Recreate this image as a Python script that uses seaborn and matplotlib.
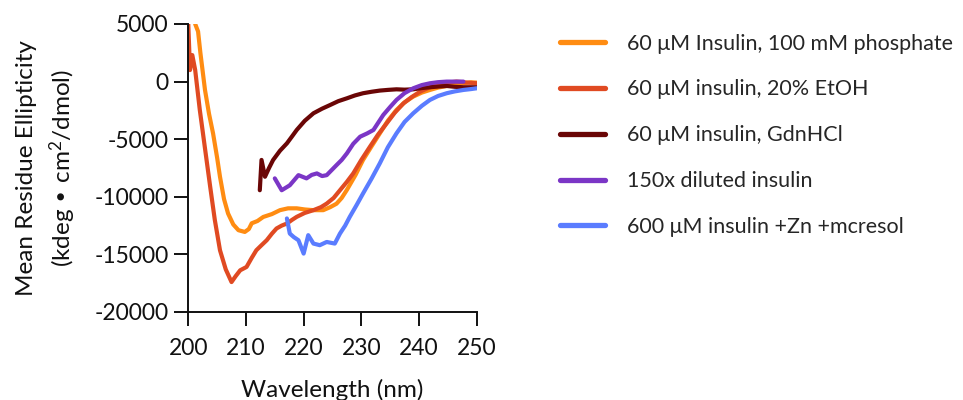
import matplotlib
matplotlib.use("Agg")
from matplotlib import pyplot as plt
import pandas as pd
import seaborn as sns

# CD spectra (wavelength nm, MRE)
labels = ['60 μM Insulin, 100 mM phosphate', '60 μM insulin, 20% EtOH',
          '60 μM insulin, GdnHCl', '150x diluted insulin', '600 μM insulin +Zn +mcresol']
colors = ['#ff8c12', '#e04a22', '#6a0606', '#7b36c6', '#5a7cff']

wl_phos = [201.2, 201.7, 202.1, 202.9, 203.6, 204.3, 205.0, 205.5, 206.2, 206.9, 207.8, 208.7, 209.8,
           210.5, 211.0, 212.0, 213.0, 214.5, 215.9, 217.3, 218.8, 220.2, 221.7, 223.4, 224.6, 225.7,
           226.6, 227.5, 229.0, 230.3, 231.8, 233.2, 234.6, 236.1, 237.5, 239.0, 240.5, 241.9, 243.3,
           244.8, 246.2, 247.7, 249.0, 250.0]
mre_phos = [5000, 4350, 2500, -725, -2800, -4500, -6600, -8260, -10200, -11450, -12400, -12900, -13050,
            -12800, -12300, -12100, -11750, -11500, -11160, -11000, -11000, -11100, -11160, -11160, -10900,
            -10600, -10100, -9400, -8100, -6800, -5600, -4500, -3400, -2460, -1800, -1300, -950, -725, -520,
            -380, -250, -145, -60, -90]

wl_etoh = [200.0, 200.3, 200.7, 201.2, 202.0, 202.9, 203.8, 204.6, 205.5, 206.5, 207.5, 208.2, 209.0,
           210.1, 211.0, 211.8, 212.7, 213.6, 214.5, 215.3, 216.2, 217.1, 218.0, 218.8, 220.2, 221.7,
           223.0, 224.0, 225.2, 226.3, 227.5, 228.6, 230.0, 231.5, 232.9, 234.4, 235.8, 237.3, 238.7,
           240.2, 241.6, 243.1, 244.8, 246.5, 248.2, 250.0]
mre_etoh = [5000, 1000, 2300, 1000, -2460, -5800, -9130, -12000, -14640, -16300, -17400, -16900, -16380,
            -16090, -15300, -14640, -14200, -13770, -13200, -12750, -12500, -12320, -12000, -11740, -11400,
            -11160, -10900, -10590, -10100, -9430, -8700, -7970, -6800, -5650, -4600, -3620, -2700, -1890,
            -1350, -870, -550, -290, -100, 0, -80, -145]

wl_gdn = [212.4, 212.7, 213.3, 214.0, 214.7, 215.9, 217.1, 218.0, 218.8, 220.2, 221.7, 223.2, 224.6,
          226.0, 227.5, 228.9, 230.3, 231.8, 233.2, 234.6, 236.1, 237.5, 239.0, 240.5, 241.9, 243.3,
          244.8, 246.2, 247.7, 250.0]
mre_gdn = [-9430, -6800, -8260, -7500, -6810, -6000, -5360, -4750, -4200, -3400, -2750, -2350, -2030,
           -1700, -1450, -1200, -1010, -880, -780, -720, -670, -700, -670, -560, -490, -430, -380, -450,
           -490, -490]

wl_dil = [215.0, 216.2, 217.6, 219.1, 220.5, 221.4, 222.3, 223.2, 224.0, 225.7, 226.6, 227.5, 228.6,
          229.8, 231.0, 232.1, 233.8, 235.0, 236.1, 237.5, 239.0, 240.5, 241.9, 243.3, 244.8, 246.2, 247.7]
mre_dil = [-8400, -9430, -9000, -8120, -8400, -8100, -7970, -8200, -8120, -7250, -6800, -6230, -5400,
           -4780, -4500, -4200, -2900, -2200, -1590, -1000, -580, -300, -145, -50, 0, 0, 0]

wl_zn = [217.1, 217.6, 218.3, 219.1, 220.0, 220.8, 221.7, 222.8, 224.0, 225.4, 226.3, 227.2, 228.0,
         229.2, 230.3, 231.8, 233.2, 234.6, 236.1, 237.5, 239.0, 240.5, 241.9, 243.3, 244.8, 246.2,
         247.7, 249.0, 250.0]
mre_zn = [-11880, -13190, -13500, -13770, -14930, -13330, -14060, -14200, -13920, -14060, -13190, -12500,
          -11740, -10700, -9710, -8400, -7100, -5700, -4490, -3500, -2750, -2100, -1590, -1250, -1010,
          -850, -725, -650, -580]

frames = []
for lab, wl, mre in zip(labels, [wl_phos, wl_etoh, wl_gdn, wl_dil, wl_zn],
                        [mre_phos, mre_etoh, mre_gdn, mre_dil, mre_zn]):
    frames.append(pd.DataFrame({'wavelength': wl, 'mre': mre, 'sample': lab}))
df = pd.concat(frames, ignore_index=True)

sns.set_style("ticks")
plt.rcParams['font.family'] = ['Lato', 'DejaVu Sans']
plt.rcParams['mathtext.default'] = 'regular'
plt.rcParams['axes.unicode_minus'] = False

fig = plt.figure(figsize=(9.63, 4), dpi=100)
ax = fig.add_axes([0.1955, 0.22, 0.2995, 0.72])
sns.lineplot(data=df, x='wavelength', y='mre', hue='sample', hue_order=labels,
             palette=colors, estimator=None, sort=False, linewidth=3.0, ax=ax)

ax.set_xlim(200, 250)
ax.set_ylim(-20000, 5000)
ax.set_xticks([200, 210, 220, 230, 240, 250])
ax.set_yticks([5000, 0, -5000, -10000, -15000, -20000])
ax.tick_params(labelsize=16.5, width=1.4, length=10, color='#111111', labelcolor='#111111')
ax.tick_params(axis='x', pad=9)
ax.tick_params(axis='y', pad=4)
for s in ['left', 'bottom']:
    ax.spines[s].set_linewidth(1.4)
    ax.spines[s].set_color('#111111')
sns.despine(ax=ax)

ax.set_xlabel('Wavelength (nm)', fontsize=17.5, labelpad=14, color='#111111')
ax.set_ylabel('Mean Residue Ellipticity\n(kdeg • cm$^2$/dmol)', fontsize=17.5, labelpad=12,
              color='#111111', linespacing=1.45)

handles, labs = ax.get_legend_handles_labels()
ax.legend_.remove()
for h in handles:
    h.set_linewidth(3.8)
fig.legend(handles, labs, loc='upper left', bbox_to_anchor=(0.5815, 0.916), frameon=False,
           fontsize=15.5, labelspacing=1.2, handlelength=2.1, handletextpad=1.0,
           borderpad=0, borderaxespad=0)

fig.savefig('out.png', dpi=100)
